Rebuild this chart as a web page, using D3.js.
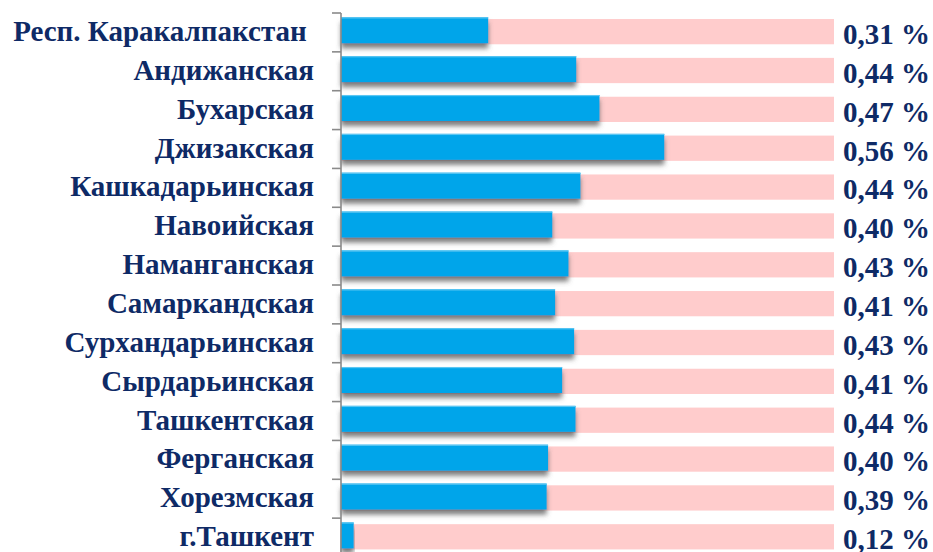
<!DOCTYPE html>
<html lang="ru">
<head>
  <meta charset="UTF-8">
  <title>Доля по регионам</title>
  <script src="https://cdn.jsdelivr.net/npm/d3@7/dist/d3.min.js"></script>
  <style>
    body { margin: 0; background: #fff; }
    svg { display: block; }
    .lbl, .val {
      font-family: "Liberation Serif", "Times New Roman", serif;
      font-weight: bold;
      font-size: 29px;
      fill: #0e2a66;
      white-space: pre;
    }
  </style>
</head>
<body>
  <svg id="chart" width="933" height="552"></svg>
  <script>
    // regions, top to bottom
    const regions = [
      "Респ. Каракалпакстан ", "Андижанская", "Бухарская", "Джизакская",
      "Кашкадарьинская", "Навоийская", "Наманганская", "Самаркандская",
      "Сурхандарьинская", "Сырдарьинская", "Ташкентская", "Ферганская",
      "Хорезмская", "г.Ташкент"
    ];
    // bar lengths (%)
    const values = [0.309, 0.434, 0.467, 0.559, 0.440, 0.400, 0.423,
                    0.404, 0.431, 0.414, 0.433, 0.394, 0.392, 0.118];
    // printed labels
    const labels = ["0,31 %", "0,44 %", "0,47 %", "0,56 %", "0,44 %", "0,40 %", "0,43 %",
                    "0,41 %", "0,43 %", "0,41 %", "0,44 %", "0,40 %", "0,39 %", "0,12 %"];
    const axisMin = 0.1, axisMax = 0.8;

    const data = regions.map((r, i) => ({ region: r, value: values[i], label: labels[i] }));

    const svg = d3.select("#chart");

    const x = d3.scaleLinear().domain([axisMin, axisMax]).range([341, 834]);
    const y = d3.scaleBand().domain(regions).range([13, 557]).padding(0);
    const bw = y.bandwidth();

    const defs = svg.append("defs");
    const f = defs.append("filter").attr("id", "shadow")
      .attr("x", "-5%").attr("y", "-20%").attr("width", "110%").attr("height", "160%");
    f.append("feDropShadow")
      .attr("dx", 0).attr("dy", 5).attr("stdDeviation", 2.5)
      .attr("flood-color", "#555").attr("flood-opacity", 0.75);

    // pink background bars (full scale)
    svg.append("g").selectAll("rect")
      .data(data).enter().append("rect")
      .attr("x", x(axisMin))
      .attr("y", d => y(d.region) + bw * 0.155)
      .attr("width", x(axisMax) - x(axisMin))
      .attr("height", bw * 0.65)
      .attr("fill", "#ffcccc");

    // blue value bars
    const bars = svg.append("g").selectAll("g")
      .data(data).enter().append("g");
    bars.append("rect")
      .attr("x", x(axisMin))
      .attr("y", d => y(d.region) + bw * 0.11)
      .attr("width", d => x(d.value) - x(axisMin))
      .attr("height", bw * 0.67)
      .attr("fill", "#00a5ea")
      .attr("filter", "url(#shadow)");
    bars.append("rect")
      .attr("x", x(axisMin))
      .attr("y", d => y(d.region) + bw * 0.11)
      .attr("width", d => x(d.value) - x(axisMin))
      .attr("height", 1.2)
      .attr("fill", "#5cc6f2");

    // axis line with ticks at band edges
    const ax = svg.append("g").attr("stroke", "#8a8a8a").attr("stroke-width", 1.6);
    ax.append("line")
      .attr("x1", x(axisMin)).attr("x2", x(axisMin))
      .attr("y1", y.range()[0]).attr("y2", y.range()[1]);
    ax.selectAll("line.tick")
      .data(regions.map(r => y(r)))
      .enter().append("line").attr("class", "tick")
      .attr("x1", x(axisMin) - 9).attr("x2", x(axisMin))
      .attr("y1", d => d).attr("y2", d => d);

    // category labels
    svg.append("g").selectAll("text")
      .data(data).enter().append("text")
      .attr("class", "lbl")
      .attr("text-anchor", "end")
      .attr("x", 314)
      .attr("y", d => y(d.region) + bw / 2 + 8.5)
      .text(d => d.region);

    // value labels
    svg.append("g").selectAll("text")
      .data(data).enter().append("text")
      .attr("class", "val")
      .attr("x", x(axisMax) + 9)
      .attr("y", d => y(d.region) + bw / 2 + 11.5)
      .text(d => d.label);
  </script>
</body>
</html>
